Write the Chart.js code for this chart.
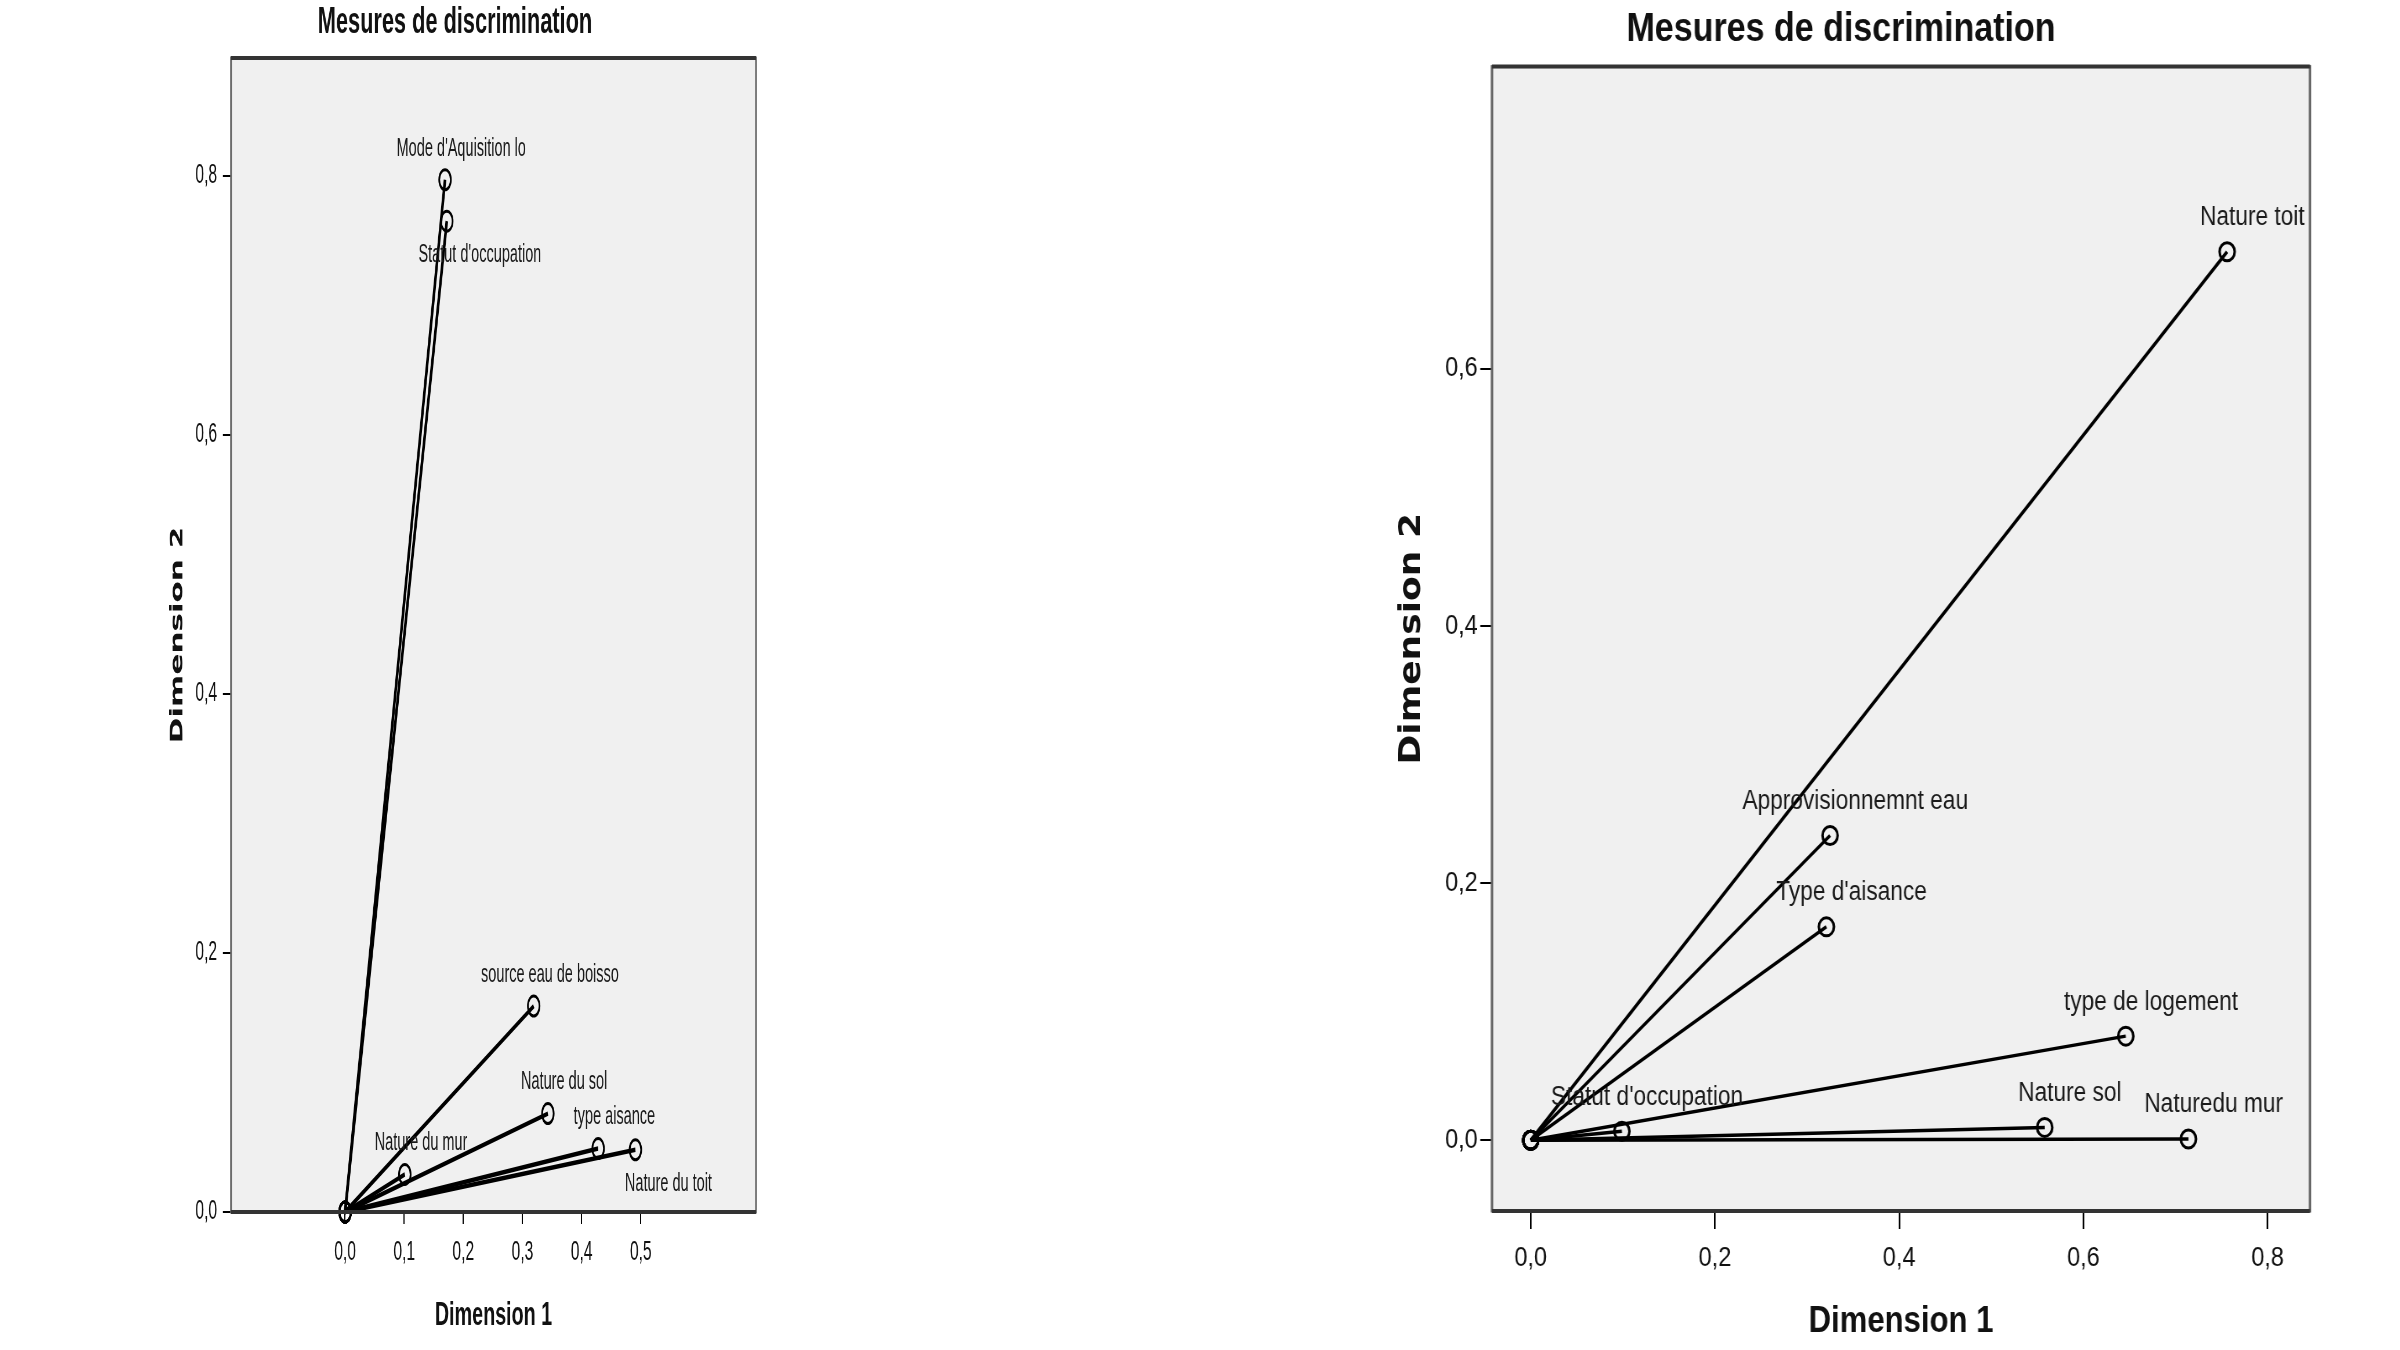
<!DOCTYPE html>
<html>
<head>
<meta charset="utf-8">
<script src="https://cdn.jsdelivr.net/npm/chart.js@4.4.1/dist/chart.umd.min.js"></script>
<style>
  html, body { margin: 0; padding: 0; background: #fff; }
  body { width: 2400px; height: 1350px; position: relative; overflow: hidden; }
  .wrap { position: absolute; top: 0; transform-origin: 0 0; }
</style>
</head>
<body>
<div class="wrap" id="wrapLeft"><canvas id="leftChart"></canvas></div>
<div class="wrap" id="wrapRight"><canvas id="rightChart"></canvas></div>

<script>
// --- data: left plot ---
const leftNames = ["Mode d'Aquisition lo", "Statut d'occupation", "source eau de boisso",
                   "Nature du sol", "type aisance", "Nature du toit", "Nature du mur"];
const leftDim1 = [0.169, 0.172, 0.319, 0.343, 0.428, 0.491, 0.101];
const leftDim2 = [0.797, 0.765, 0.159, 0.076, 0.049, 0.048, 0.029];
const leftXTicks = [0, 0.1, 0.2, 0.3, 0.4, 0.5];
const leftYTicks = [0, 0.2, 0.4, 0.6, 0.8];
const leftLabelSide = ['above', 'below', 'above', 'above', 'above', 'below', 'above'];

// --- data: right plot ---
const rightNames = ["Nature toit", "Approvisionnemnt eau", "Type d'aisance",
                    "type de logement", "Nature sol", "Naturedu mur", "Statut d'occupation"];
const rightDim1 = [0.756, 0.325, 0.321, 0.646, 0.558, 0.714, 0.099];
const rightDim2 = [0.691, 0.237, 0.166, 0.081, 0.010, 0.001, 0.007];
const rightXTicks = [0, 0.2, 0.4, 0.6, 0.8];
const rightYTicks = [0, 0.2, 0.4, 0.6];

const TITLE = 'Mesures de discrimination';
const fmt = v => v.toFixed(1).replace('.', ',');

// plot frame + background
const framePlugin = {
  id: 'frame',
  beforeDatasetsDraw(chart) {
    const a = chart.chartArea, ctx = chart.ctx;
    ctx.save();
    ctx.fillStyle = '#f0f0f0';
    ctx.fillRect(a.left, a.top, a.right - a.left, a.bottom - a.top);
    ctx.restore();
  },
  afterDraw(chart) {
    const a = chart.chartArea, ctx = chart.ctx;
    ctx.save();
    ctx.strokeStyle = '#666';
    ctx.lineWidth = 3;
    ctx.strokeRect(a.left, a.top, a.right - a.left, a.bottom - a.top);
    ctx.strokeStyle = '#333';
    ctx.lineWidth = 4;
    ctx.beginPath();
    ctx.moveTo(a.left, a.top); ctx.lineTo(a.right, a.top);
    ctx.moveTo(a.left, a.bottom); ctx.lineTo(a.right, a.bottom);
    ctx.stroke();
    ctx.restore();
  }
};

// point labels
const labelPlugin = {
  id: 'ptLabels',
  afterDatasetsDraw(chart, args, opts) {
    const ctx = chart.ctx;
    ctx.save();
    ctx.font = opts.font;
    ctx.fillStyle = '#1a1a1a';
    ctx.textAlign = 'center';
    ctx.textBaseline = 'middle';
    chart.data.datasets.forEach((ds, i) => {
      const pt = chart.getDatasetMeta(i).data[1];
      const side = opts.sides ? opts.sides[i] : 'above';
      const off = side === 'below' ? opts.below : opts.above;
      ctx.fillText(ds.label, pt.x + off[0], pt.y + off[1]);
    });
    ctx.restore();
  }
};

function makeChart(cfg) {
  const wrap = document.getElementById(cfg.wrap);
  const canvas = document.getElementById(cfg.canvas);
  const w = Math.round(cfg.pageWidth / cfg.sx);
  canvas.width = w;
  canvas.height = 1350;
  wrap.style.left = cfg.pageLeft + 'px';
  wrap.style.width = w + 'px';
  wrap.style.height = '1350px';
  wrap.style.transform = 'scaleX(' + cfg.sx + ')';

  const toInt = px => (px - cfg.pageLeft) / cfg.sx;
  const yAxisW = toInt(cfg.box[0]);
  const padRight = w - toInt(cfg.box[1]);
  const xAxisH = 1350 - cfg.box[3];

  const datasets = cfg.names.map((n, i) => ({
    label: n,
    data: [{x: 0, y: 0}, {x: cfg.dim1[i], y: cfg.dim2[i]}],
    showLine: true,
    borderColor: '#000',
    borderWidth: cfg.lineW,
    pointRadius: cfg.pointR,
    pointBorderWidth: 3,
    pointBorderColor: '#000',
    pointBackgroundColor: 'rgba(240,240,240,0)',
    clip: 30
  }));

  return new Chart(canvas, {
    type: 'scatter',
    data: { datasets },
    options: {
      responsive: false,
      devicePixelRatio: 1,
      animation: false,
      events: [],
      layout: { padding: { left: 0, right: padRight, top: 0, bottom: 0 } },
      plugins: {
        legend: { display: false },
        tooltip: { enabled: false },
        title: {
          display: true,
          text: TITLE,
          color: '#111',
          font: { family: 'Liberation Sans', weight: 'bold', size: cfg.titleSize },
          padding: cfg.titlePad
        },
        ptLabels: cfg.labels
      },
      scales: {
        x: {
          type: 'linear',
          min: cfg.xRange[0], max: cfg.xRange[1],
          afterBuildTicks: s => { s.ticks = cfg.xTicks.map(v => ({ value: v })); },
          afterFit: s => { s.height = xAxisH; },
          grid: { drawOnChartArea: false, color: '#000', lineWidth: 2, tickLength: cfg.xTickLen },
          border: { display: false },
          ticks: {
            callback: fmt, color: '#111', padding: cfg.xTickPad, maxRotation: 0,
            font: { family: 'Liberation Sans', size: cfg.tickSize }
          },
          title: {
            display: true, text: 'Dimension 1', color: '#111',
            font: { family: 'Liberation Sans', weight: 'bold', size: cfg.xTitleSize },
            padding: { top: 0, bottom: cfg.xTitlePadBottom }
          }
        },
        y: {
          type: 'linear',
          min: cfg.yRange[0], max: cfg.yRange[1],
          afterBuildTicks: s => { s.ticks = cfg.yTicks.map(v => ({ value: v })); },
          afterFit: s => { s.width = yAxisW; },
          grid: { drawOnChartArea: false, color: '#000', lineWidth: 2, tickLength: cfg.yTickLen },
          border: { display: false },
          ticks: {
            callback: fmt, color: '#111', padding: cfg.yTickPad,
            font: { family: 'Liberation Sans', size: cfg.tickSize }
          },
          title: {
            display: true, text: 'Dimension 2', color: '#111',
            font: { family: 'DejaVu Sans', weight: 'bold', size: cfg.yTitleSize },
            padding: { top: toInt(cfg.yTitleX) - cfg.yTitleSize * 0.6, bottom: 0 }
          }
        }
      }
    },
    plugins: [framePlugin, labelPlugin]
  });
}

// left plot (horizontally squeezed like the source image)
makeChart({
  wrap: 'wrapLeft', canvas: 'leftChart',
  pageLeft: 154, pageWidth: 646, sx: 0.58,
  box: [231, 756, 58, 1212],
  names: leftNames, dim1: leftDim1, dim2: leftDim2,
  xTicks: leftXTicks, yTicks: leftYTicks,
  xRange: [-0.193, 0.695], yRange: [0, 0.891],
  lineW: 4.5, pointR: 10,
  titleSize: 37.5, titlePad: { top: 0, bottom: 13 },
  tickSize: 27, xTickLen: 12, xTickPad: 12, yTickLen: 14, yTickPad: 10,
  xTitleSize: 34, xTitlePadBottom: 14,
  yTitleSize: 31, yTitleX: 178,
  labels: { font: '25px "Liberation Sans"', sides: leftLabelSide, above: [28, -31], below: [57, 34] }
});

// right plot
makeChart({
  wrap: 'wrapRight', canvas: 'rightChart',
  pageLeft: 1372, pageWidth: 1028, sx: 0.84,
  box: [1492, 2310, 67, 1211],
  names: rightNames, dim1: rightDim1, dim2: rightDim2,
  xTicks: rightXTicks, yTicks: rightYTicks,
  xRange: [-0.042, 0.846], yRange: [-0.055, 0.835],
  lineW: 3.5, pointR: 9,
  titleSize: 40.5, titlePad: { top: 6, bottom: 12 },
  tickSize: 28, xTickLen: 18, xTickPad: 12, yTickLen: 14, yTickPad: 3,
  xTitleSize: 37, xTitlePadBottom: 6,
  yTitleSize: 36, yTitleX: 1412,
  labels: { font: '27px "Liberation Sans"', above: [30, -34], below: [30, 34] }
});
</script>
</body>
</html>
